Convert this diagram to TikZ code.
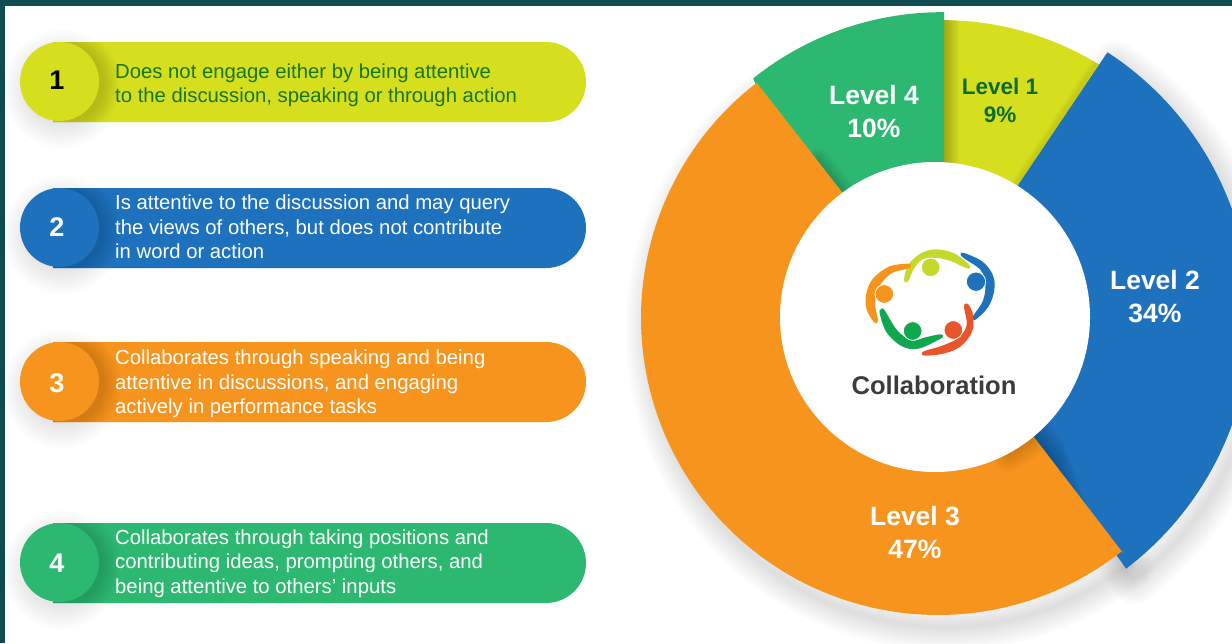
\documentclass[tikz,border=0pt]{standalone}
\usepackage{fontspec}
\setmainfont{Liberation Sans}
\definecolor{frame}{HTML}{0F4C52}
\definecolor{lvlA}{HTML}{D6DF1E}
\definecolor{lvlB}{HTML}{1E71BC}
\definecolor{lvlC}{HTML}{F7941D}
\definecolor{lvlD}{HTML}{2DB872}
\definecolor{darkgr}{HTML}{17751F}
\definecolor{lvlAtext}{HTML}{0E6B2E}
\definecolor{capt}{HTML}{3C3C3C}
\definecolor{iconY}{HTML}{C6D82C}
\definecolor{iconR}{HTML}{E9552B}
\definecolor{iconG}{HTML}{0FA84F}
\def\bluepath{(1000,212) -- (1107,53) -- plot[domain=56.9:-52.8,samples=70] ({935+316*cos(\x)},{317-316*sin(\x)}) -- (1020,417) -- cycle}
\def\orangepath{(859,214) -- (757,83) -- plot[domain=127.6:308.3,samples=110] ({938+297*cos(\x)},{318-297*sin(\x)}) -- (1123,553) -- (1014,411) -- cycle}
\def\greenpath{(944,240) -- (944,12) -- plot[domain=88.1:127.3,samples=30] ({935+(305-(\x-88.1)/39.2*5)*cos(\x)},{317-(305-(\x-88.1)/39.2*5)*sin(\x)}) -- (762,100) -- (860,240) -- cycle}
\def\yellowpath{(944,240) -- (944,20) -- plot[domain=88.3:55,samples=30] ({935+(297+(88.3-\x)/30.8*4)*cos(\x)},{317-(297+(88.3-\x)/30.8*4)*sin(\x)}) -- (1000,212) -- cycle}
\tikzset{
  pilltext/.style={anchor=west,align=left,inner sep=0pt,font=\fontsize{20.3}{24.5}\selectfont},
  numdisc/.style={circle,inner sep=0pt,minimum size=79pt},
  numlabel/.style={inner sep=0pt,font=\fontsize{27}{27}\selectfont\bfseries},
  lvl/.style={align=center,inner sep=0pt,font=\fontsize{26.5}{33}\selectfont\bfseries,text=white},
  person/.style={line width=2.6pt,line join=round},
  headring/.style={draw=white,line width=.8pt}
}
\newcommand{\pill}[9]{%
  % #1 id, #2 top, #3 colour, #4 text colour, #5 number, #6 number colour, #7 text y, #8 number y, #9 text
  \foreach \w in {3,6,...,27}{\fill[black,opacity=.012] (62,{#2+47}) circle ({32+\w});}
  \fill[#3] (53,#2) {[rounded corners=40pt] -- (586,#2) -- (586,{#2+80})} -- (53,{#2+80}) -- cycle;
  \begin{scope}
    \clip (53,#2) {[rounded corners=40pt] -- (586,#2) -- (586,{#2+80})} -- (53,{#2+80}) -- cycle;
    \foreach \w in {2,4,...,18}{\fill[black,opacity=.015] (63,{#2+42}) circle ({39+\w});}
  \end{scope}
  \node[numdisc,fill=#3] (disc#1) at (59.5,{#2+39.5}) {};
  \node[numlabel,text=#6] (num#1) at (57,#8) {#5};
  \node[pilltext,text=#4] (text#1) at (115,#7) {#9};
}
\begin{document}
\begin{tikzpicture}[x=1pt,y=-1pt]
\useasboundingbox (0,0) rectangle (1232,643);
\fill[white] (0,0) rectangle (1232,643);
\fill[frame] (0,0) rectangle (1232,6);
\fill[frame] (0,0) rectangle (5,643);

\pill{1}{42}{lvlA}{darkgr}{1}{black}{85}{80}{Does not engage either by being attentive\\to the discussion, speaking or through action}
\pill{2}{188}{lvlB}{white}{2}{white}{227}{227}{Is attentive to the discussion and may query\\the views of others, but does not contribute\\in word or action}
\pill{3}{342}{lvlC}{white}{3}{white}{384}{383}{Collaborates through speaking and being\\attentive in discussions, and engaging\\actively in performance tasks}
\pill{4}{523}{lvlD}{white}{4}{white}{563.5}{563}{Collaborates through taking positions and\\contributing ideas, prompting others, and\\being attentive to others' inputs}

% outer soft shadow
\begin{scope}[shift={(8,12)}]
  \foreach \w in {3,6,...,48}{\draw[line width=\w pt,black,opacity=.008,line join=round] \bluepath;}
  \foreach \w in {3,6,...,48}{\draw[line width=\w pt,black,opacity=.008,line join=round] \orangepath;}
\end{scope}

\fill[lvlA] \yellowpath;
\begin{scope}
  \clip \yellowpath;
  \foreach \w in {3,6,...,30}{\draw[line width=\w pt,black,opacity=.025] (944,20) -- (944,170);}
  \foreach \w in {3,6,9,12}{\draw[line width=\w pt,black,opacity=.02] (1097,63) -- (1010,195);}
\end{scope}
\fill[lvlD] \greenpath;
\fill[lvlB] \bluepath;
\begin{scope}
  \clip \greenpath;
  \foreach \w in {3,6,...,24}{\draw[line width=\w pt,black,opacity=.02,line cap=round] (842,190) -- (818,160);}
\end{scope}
\begin{scope}
  \clip \bluepath;
  \foreach \w in {3,6,...,42}{\draw[line width=\w pt,black,opacity=.014,line cap=round] (1034,437) -- ({1034+56*(1-\w/50)},{437+74*(1-\w/50)});}
\end{scope}
\fill[lvlC] \orangepath;
\begin{scope}
  \clip \orangepath;
  \foreach \w in {3,6,...,36}{\draw[line width=\w pt,black,opacity=.012,line cap=round] plot[domain=-62:-48,samples=12] ({935+155*cos(\x)},{317-155*sin(\x)});}
\end{scope}

\node[circle,fill=white,inner sep=0pt,minimum size=310pt] (hub) at (935,317) {};

% people icon, in coordinates of a 3x crop of the picture
\begin{scope}[shift={(840,230)},x=.3333pt,y=-.3333pt]
  \fill[iconY,draw=iconY,person] plot[smooth cycle,tension=.6] coordinates {(196,148) (208,107) (242,75) (285,62) (340,73) (385,107) (378,110) (335,90) (290,80) (245,85) (218,115) (202,150)};
  \fill[lvlC,draw=lvlC,person] plot[smooth cycle,tension=.6] coordinates {(203,105) (150,113) (103,147) (83,190) (83,235) (103,272) (110,270) (102,225) (110,175) (150,128) (203,112)};
  \fill[lvlB,draw=lvlB,person] plot[smooth cycle,tension=.6] coordinates {(372,73) (425,98) (455,137) (459,180) (442,228) (407,264) (404,258) (432,215) (440,165) (425,118) (372,80)};
  \fill[iconR,draw=iconR,person] plot[smooth cycle,tension=.6] coordinates {(382,226) (395,255) (392,305) (358,347) (310,367) (257,373) (254,367) (310,350) (360,325) (384,285) (376,232)};
  \fill[iconG,draw=iconG,person] plot[smooth cycle,tension=.6] coordinates {(127,241) (123,250) (143,305) (187,345) (235,352) (299,323) (299,317) (260,325) (215,335) (170,305) (132,245)};
  \fill[iconY,headring] (272,112) circle (28);
  \fill[lvlB,headring] (408,155) circle (29);
  \fill[lvlC,headring] (133,192) circle (28);
  \fill[iconG,headring] (218,303) circle (28);
  \fill[iconR,headring] (340,300) circle (28);
\end{scope}

\node[inner sep=0pt,text=capt,font=\fontsize{25.6}{27}\selectfont\bfseries] (caption) at (934,385) {Collaboration};
\node[lvl,text=lvlAtext,font=\fontsize{22.5}{28}\selectfont\bfseries] (l1) at (1000,100) {Level 1\\9\%};
\node[lvl] (l2) at (1155,297) {Level 2\\34\%};
\node[lvl] (l3) at (915,532) {Level 3\\47\%};
\node[lvl] (l4) at (874,112) {Level 4\\10\%};
\end{tikzpicture}
\end{document}
